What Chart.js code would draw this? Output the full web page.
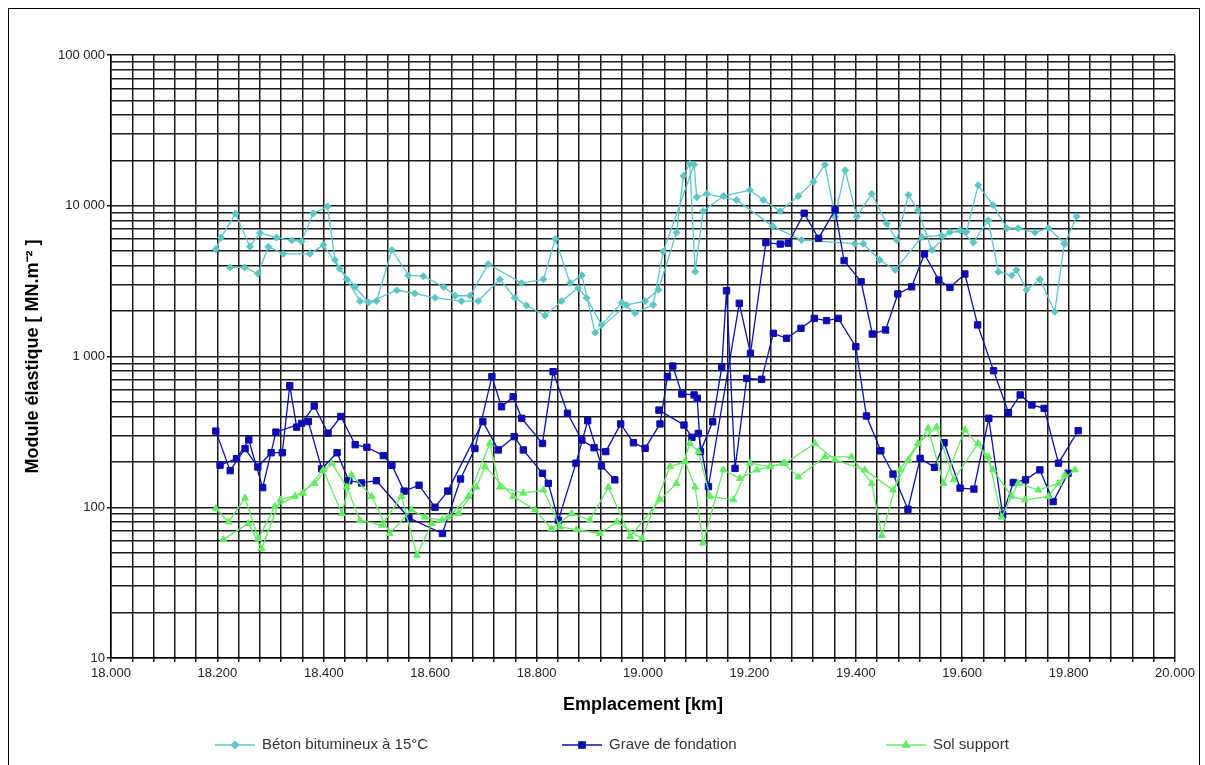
<!DOCTYPE html>
<html>
<head>
<meta charset="utf-8">
<title>Module élastique</title>
<script src="https://cdn.jsdelivr.net/npm/chart.js@4.4.1/dist/chart.umd.min.js"></script>
<style>
  html, body { margin: 0; padding: 0; background: #fff; }
  #wrap { position: relative; width: 1205px; height: 765px; overflow: hidden; }
  #frame { position: absolute; left: 8px; top: 8px; width: 1190px; height: 820px; border: 1px solid #000; pointer-events: none; }
</style>
</head>
<body>
<div id="wrap">
  <canvas id="moduleChart"></canvas>
  <div id="frame"></div>
</div>
<script>
// Béton bitumineux à 15°C - two passes
const betonKm1 = [18.197, 18.207, 18.234, 18.261, 18.280, 18.311, 18.340, 18.358, 18.380, 18.407, 18.421, 18.443, 18.468, 18.499, 18.528, 18.559, 18.587, 18.625, 18.647, 18.675, 18.709, 18.772, 18.813, 18.835, 18.863, 18.885, 18.910, 18.969, 19.004, 19.029, 19.063, 19.076, 19.088, 19.098, 19.113, 19.151, 19.201, 19.226, 19.258, 19.292, 19.320, 19.342, 19.361, 19.380, 19.402, 19.430, 19.458, 19.477, 19.499, 19.517, 19.543, 19.577, 19.608, 19.630, 19.658, 19.684, 19.705, 19.737, 19.762, 19.793, 19.815];
const betonVal1 = [5150, 6150, 8880, 5350, 6600, 6150, 5900, 5800, 8880, 9900, 4370, 3250, 2330, 2330, 5090, 3450, 3410, 2900, 2530, 2530, 4100, 3070, 3250, 6020, 3070, 3450, 1440, 2200, 2330, 2770, 6650, 15800, 19000, 3650, 9200, 11600, 12700, 10900, 9200, 11600, 14400, 18700, 8500, 17200, 8500, 12000, 7600, 5920, 11800, 9340, 5090, 6700, 6700, 13700, 10100, 7100, 7100, 6650, 7100, 5600, 8500];
const betonKm2 = [18.224, 18.251, 18.276, 18.296, 18.324, 18.374, 18.399, 18.430, 18.459, 18.484, 18.537, 18.571, 18.609, 18.659, 18.690, 18.731, 18.759, 18.781, 18.816, 18.847, 18.878, 18.894, 18.922, 18.960, 18.985, 19.019, 19.038, 19.096, 19.101, 19.120, 19.176, 19.244, 19.298, 19.398, 19.414, 19.445, 19.474, 19.524, 19.561, 19.596, 19.621, 19.649, 19.668, 19.693, 19.702, 19.721, 19.746, 19.774, 19.792];
const betonVal2 = [3900, 3900, 3550, 5350, 4800, 4800, 5500, 3820, 2900, 2280, 2750, 2620, 2450, 2330, 2330, 3250, 2450, 2180, 1870, 2330, 2850, 2450, 1620, 2280, 1940, 2200, 4960, 18700, 11400, 12000, 10900, 7300, 5920, 5600, 5600, 4370, 3750, 6200, 6350, 6890, 5700, 8000, 3650, 3450, 3750, 2770, 3250, 1980, 5600];

// Grave de fondation - two passes (second one has a gap)
const graveKm1 = [18.197, 18.224, 18.252, 18.276, 18.301, 18.322, 18.336, 18.349, 18.371, 18.396, 18.425, 18.447, 18.471, 18.499, 18.560, 18.623, 18.657, 18.684, 18.716, 18.734, 18.756, 18.772, 18.811, 18.831, 18.858, 18.885, 18.908, 18.930, 18.958, 18.982, 19.004, 19.032, 19.046, 19.056, 19.073, 19.096, 19.102, 19.108, 19.131, 19.148, 19.157, 19.173, 19.195, 19.223, 19.245, 19.270, 19.297, 19.322, 19.345, 19.367, 19.400, 19.420, 19.447, 19.470, 19.498, 19.521, 19.548, 19.566, 19.596, 19.622, 19.650, 19.676, 19.696, 19.719, 19.746, 19.771, 19.799];
const graveVal1 = [320, 175, 245, 185, 230, 230, 640, 340, 370, 180, 230, 150, 145, 150, 85, 67, 154, 245, 735, 464, 541, 389, 265, 793, 420, 279, 248, 234, 357, 268, 246, 357, 735, 864, 564, 556, 528, 234, 369, 847, 2730, 181, 716, 706, 1425, 1321, 1538, 1790, 1730, 1790, 1162, 403, 237, 166, 97, 211, 184, 268, 134, 132, 389, 89, 146, 152, 177, 109, 168];
const graveKm2 = [18.205, 18.236, 18.259, 18.285, 18.310, 18.358, 18.382, 18.408, 18.432, 18.459, 18.481, 18.512, 18.528, 18.551, 18.579, 18.609, 18.633, 18.699, 18.728, 18.758, 18.775, 18.811, 18.822, 18.841, 18.874, 18.896, 18.922, 18.947, 18.990, 19.030, 19.077, 19.092, 19.104, 19.123, 19.181, 19.202, 19.231, 19.258, 19.273, 19.303, 19.330, 19.361, 19.378, 19.410, 19.431, 19.456, 19.479, 19.505, 19.529, 19.556, 19.577, 19.605, 19.629, 19.659, 19.687, 19.709, 19.731, 19.754, 19.781, 19.818];
const graveVal2 = [190, 210, 280, 135, 315, 360, 470, 310, 400, 260, 250, 220, 190, 128, 140, 100, 128, 370, 240, 294, 240, 168, 144, 82, 196, 375, 188, 152, null, 441, 351, 291, 309, 137, 2254, 1050, 5690, 5570, 5650, 8920, 6080, 9380, 4330, 3130, 1410, 1500, 2600, 2900, 4790, 3215, 2875, 3525, 1620, 805, 424, 556, 477, 453, 196, 322];

// Sol support - two passes
const solKm1 = [18.197, 18.221, 18.252, 18.277, 18.308, 18.346, 18.383, 18.415, 18.443, 18.468, 18.509, 18.546, 18.575, 18.603, 18.634, 18.672, 18.712, 18.731, 18.775, 18.813, 18.844, 18.875, 18.919, 18.951, 18.998, 19.051, 19.079, 19.098, 19.113, 19.151, 19.182, 19.214, 19.264, 19.292, 19.342, 19.392, 19.430, 19.449, 19.483, 19.517, 19.552, 19.584, 19.630, 19.658, 19.693, 19.718, 19.762, 19.793];
const solVal1 = [98, 80, 115, 62, 101, 118, 144, 196, 136, 82, 76, 118, 48, 78, 86, 118, 265, 136, 124, 130, 74, 71, 67, 80, 62, 186, 201, 136, 58, 177, 155, 177, 196, 159, 216, 216, 144, 65, 177, 265, 340, 152, 265, 177, 118, 112, 118, 164];
const solKm2 = [18.211, 18.258, 18.283, 18.318, 18.361, 18.399, 18.434, 18.452, 18.490, 18.524, 18.565, 18.590, 18.622, 18.653, 18.687, 18.703, 18.756, 18.797, 18.828, 18.866, 18.900, 18.935, 18.976, 19.032, 19.063, 19.088, 19.104, 19.126, 19.170, 19.201, 19.239, 19.267, 19.323, 19.361, 19.417, 19.470, 19.499, 19.536, 19.565, 19.605, 19.649, 19.674, 19.705, 19.743, 19.781, 19.812];
const solVal2 = [61, 78, 53, 112, 124, 177, 91, 164, 118, 67, 96, 86, 82, 91, 136, 186, 118, 96, 72, 91, 82, 136, 64, 112, 144, 265, 234, 118, 112, 196, 186, 196, 265, 206, 177, 130, 206, 334, 144, 326, 216, 86, 144, 130, 144, 177];

// Axes
const yDecades = [10, 100, 1000, 10000, 100000];
const yTickLabels = ['10', '100', '1 000', '10 000', '100 000'];
const xTickLabels = ['18.000', '18.200', '18.400', '18.600', '18.800', '19.000', '19.200', '19.400', '19.600', '19.800', '20.000'];
const xMin = 18, xMax = 20, xGridStep = 0.04, xLabelEvery = 5;

const seriesLabels = ['Béton bitumineux à 15°C', 'Grave de fondation', 'Sol support'];
const seriesColors = ['#5cc6c6', '#0c0cb0', '#62ec62'];

function toPoints(kms, vals) {
    return kms.map((x, i) => ({ x: x, y: vals[i] }));
}

function makeDataset(idx, kms, vals, style, radius, order) {
    return {
        label: seriesLabels[idx],
        data: toPoints(kms, vals),
        borderColor: seriesColors[idx],
        backgroundColor: seriesColors[idx],
        pointBackgroundColor: seriesColors[idx],
        pointBorderColor: seriesColors[idx],
        pointStyle: style,
        pointRadius: radius,
        pointBorderWidth: 1,
        borderWidth: 1.3,
        showLine: true,
        spanGaps: false,
        order: order
    };
}

const datasets = [
    makeDataset(0, betonKm1, betonVal1, 'rectRot', 3.5, 2),
    makeDataset(0, betonKm2, betonVal2, 'rectRot', 3.5, 2),
    makeDataset(1, graveKm1, graveVal1, 'rect', 4.5, 1),
    makeDataset(1, graveKm2, graveVal2, 'rect', 4.5, 1),
    makeDataset(2, solKm1, solVal1, 'triangle', 4, 0),
    makeDataset(2, solKm2, solVal2, 'triangle', 4, 0)
];

// Excel style legend: line sample with marker, spread along the bottom
const legendX = [215, 562, 886];
const legendY = 745;
const bottomLegend = {
    id: 'bottomLegend',
    afterDraw(chart) {
        const ctx = chart.ctx;
        [0, 2, 4].forEach((dsIndex, i) => {
            const ds = chart.data.datasets[dsIndex];
            const x0 = legendX[i];
            ctx.save();
            ctx.strokeStyle = ds.borderColor;
            ctx.lineWidth = 1.3;
            ctx.beginPath();
            ctx.moveTo(x0, legendY);
            ctx.lineTo(x0 + 40, legendY);
            ctx.stroke();
            ctx.fillStyle = ds.pointBackgroundColor;
            ctx.strokeStyle = ds.pointBorderColor;
            if (Chart.helpers && Chart.helpers.drawPoint) {
                Chart.helpers.drawPoint(ctx, { pointStyle: ds.pointStyle, radius: ds.pointRadius, borderWidth: 1, rotation: 0 }, x0 + 20, legendY);
            } else {
                ctx.fillRect(x0 + 17, legendY - 3, 6, 6);
            }
            ctx.fillStyle = '#333';
            ctx.font = '15px "Liberation Sans", Arial, sans-serif';
            ctx.textBaseline = 'middle';
            ctx.textAlign = 'left';
            ctx.fillText(ds.label, x0 + 47, legendY);
            ctx.restore();
        });
    }
};

const gridColor = '#1a1a1a';

new Chart(document.getElementById('moduleChart').getContext('2d'), {
    type: 'scatter',
    data: { datasets: datasets },
    options: {
        responsive: true,
        maintainAspectRatio: false,
        animation: false,
        layout: { padding: { left: 18, right: 30, top: 55, bottom: 45 } },
        plugins: {
            legend: { display: false },
            tooltip: { enabled: false }
        },
        scales: {
            x: {
                type: 'linear',
                min: xMin,
                max: xMax,
                afterBuildTicks: (scale) => {
                    const n = Math.round((xMax - xMin) / xGridStep);
                    const ticks = [];
                    for (let i = 0; i <= n; i++) {
                        ticks.push({ value: +(xMin + i * xGridStep).toFixed(2) });
                    }
                    scale.ticks = ticks;
                },
                afterFit: (scale) => { scale.height = 62; },
                ticks: {
                    autoSkip: false,
                    maxRotation: 0,
                    padding: 4,
                    color: '#222',
                    font: { family: '"Liberation Sans", Arial, sans-serif', size: 13 },
                    callback: (value, index) => index % xLabelEvery === 0 ? xTickLabels[index / xLabelEvery] : ''
                },
                grid: {
                    color: gridColor,
                    lineWidth: 1.5,
                    tickLength: 4,
                    tickColor: gridColor
                },
                border: { color: '#000', width: 1.5 },
                title: {
                    display: true,
                    text: 'Emplacement [km]',
                    color: '#000',
                    font: { family: '"Liberation Sans", Arial, sans-serif', size: 18, weight: 'bold' }
                }
            },
            y: {
                type: 'logarithmic',
                min: 10,
                max: 100000,
                afterBuildTicks: (scale) => {
                    const ticks = [];
                    yDecades.forEach((d, i) => {
                        if (i < yDecades.length - 1) {
                            for (let m = 1; m < 10; m++) ticks.push({ value: d * m });
                        } else {
                            ticks.push({ value: d });
                        }
                    });
                    scale.ticks = ticks;
                },
                afterFit: (scale) => { scale.width = 111 - 18; },
                ticks: {
                    autoSkip: false,
                    padding: 2,
                    color: '#222',
                    font: { family: '"Liberation Sans", Arial, sans-serif', size: 13 },
                    callback: (value) => {
                        const k = yDecades.indexOf(value);
                        return k >= 0 ? yTickLabels[k] : '';
                    }
                },
                grid: {
                    color: gridColor,
                    lineWidth: 1.5,
                    tickLength: 4,
                    tickColor: (ctx) => (ctx.tick && yDecades.indexOf(ctx.tick.value) >= 0) ? gridColor : 'rgba(0,0,0,0)'
                },
                border: { color: '#000', width: 1.5 },
                title: {
                    display: true,
                    text: 'Module élastique [ MN.m⁻² ]',
                    color: '#000',
                    font: { family: '"Liberation Sans", Arial, sans-serif', size: 18, weight: 'bold' }
                }
            }
        }
    },
    plugins: [bottomLegend]
});
</script>
</body>
</html>
